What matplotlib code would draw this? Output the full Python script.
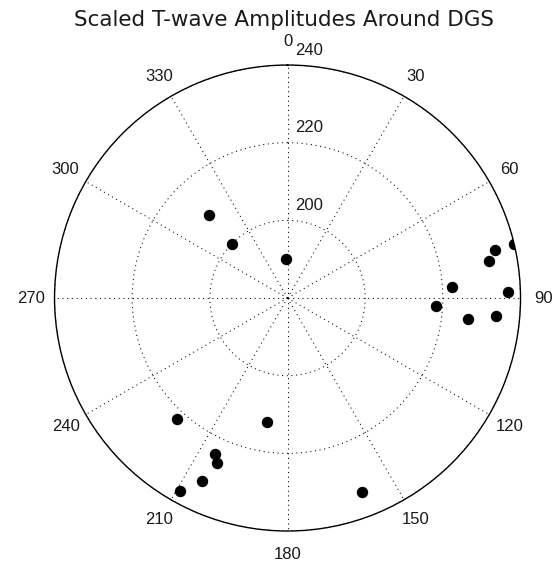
import numpy as np
import matplotlib
matplotlib.use("Agg")
import matplotlib.pyplot as plt
from matplotlib.transforms import offset_copy

# ---- data ----
theta_deg = [316.7, 314.2, 357.8, 76.7, 77.1, 79.5, 86.1, 88.5, 93.0, 96.6, 94.9,
             222.3, 189.5, 204.9, 203.2, 205.2, 209.2, 159.1]
amplitude = [209.4, 199.8, 190.0, 240.0, 234.9, 232.8, 222.4, 236.9, 218.3, 226.7, 233.8,
             222.2, 212.5, 224.3, 226.3, 232.0, 236.8, 233.6]
angle_ticks = [0, 30, 60, 90, 120, 150, 180, 210, 240, 270, 300, 330]
radial_ticks = [200, 220, 240]
r_min, r_max = 180, 240
title = "Scaled T-wave Amplitudes Around DGS"

plt.rcParams['font.family'] = ['Liberation Sans', 'DejaVu Sans']

fig = plt.figure(figsize=(5.57, 5.63), dpi=100)
ax = fig.add_axes([0.0979, 0.0568, 0.8366, 0.8277], projection='polar')
ax.set_theta_zero_location('N')
ax.set_theta_direction(-1)
ax.set_rlim(r_min, r_max)

grid_style = dict(color='black', linestyle=(0, (1, 3.5)), linewidth=0.75)
ax.set_thetagrids(angle_ticks, labels=[''] * len(angle_ticks))
ax.set_rgrids(radial_ticks, labels=[''] * len(radial_ticks))
ax.grid(True, **grid_style)
ax.spines['polar'].set_linewidth(1.0)
ax.spines['polar'].set_color('black')

ax.plot(np.deg2rad(theta_deg), amplitude, 'o', color='black', markersize=7.2,
        linestyle='none', zorder=5)

# angle labels outside the circle
label_r = r_min + 1.1 * (r_max - r_min)
for a in angle_ticks:
    ax.text(np.deg2rad(a), label_r, str(a), ha='center', va='center',
            fontsize=12, color='#1a1a1a', clip_on=False)

# radial labels next to the vertical spoke
tr = offset_copy(ax.transData, fig=fig, x=8, y=15, units='dots')
for v in radial_ticks:
    ax.text(0, v, str(v), transform=tr, ha='left', va='center', fontsize=12,
            color='#1a1a1a', clip_on=False)

fig.text(284 / 557, 1 - 20 / 563, title, ha='center', va='center', fontsize=15.5,
         color='#1a1a1a', family=['DejaVu Sans'])

fig.savefig('out.png', dpi=100)
